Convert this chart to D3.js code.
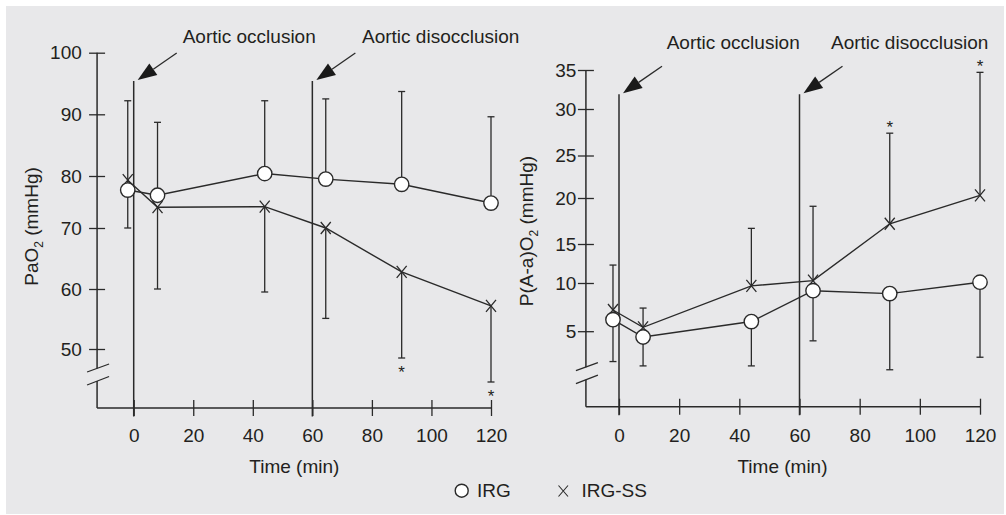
<!DOCTYPE html>
<html>
<head>
<meta charset="utf-8">
<script src="https://cdn.jsdelivr.net/npm/d3@7"></script>
<style>
  html, body { margin: 0; padding: 0; background: #ffffff; }
  svg { display: block; }
  text { font-family: "Liberation Sans", Arial, Helvetica, sans-serif; fill: #231f20; }
</style>
</head>
<body>
<svg id="chart" width="1006" height="515"></svg>
<script>
// ---------------- data ----------------
const times = [-2, 8, 44, 64.5, 90, 120];
const xTickValues = [0, 20, 40, 60, 80, 100, 120];

// Left panel: PaO2 (mmHg)
const paoTicks = [50, 60, 70, 80, 90, 100];
const paoIRG      = [77.3, 76.3, 80.4, 79.4, 78.4, 74.8];
const paoIRGUpper = [92.2, 88.7, 92.2, 92.5, 93.7, 89.6];
const paoSS       = [79.2, 74.0, 74.1, 70.0, 62.8, 57.2];
const paoSSLower  = [70.0, 60.0, 59.5, 55.1, 48.5, 44.5];
const paoSignif   = [false, false, false, false, true, true];

// Right panel: P(A-a)O2 (mmHg)
const aaTicks = [5, 10, 15, 20, 25, 30, 35];
const aaIRG      = [6.2, 4.4, 6.0, 9.2, 8.9, 10.1];
const aaIRGLower = [1.85, 1.4, 1.4, 4.0, 1.0, 2.3];
const aaSS       = [7.2, 5.4, 9.7, 10.3, 17.2, 20.3];
const aaSSUpper  = [12.3, 7.4, 16.7, 19.1, 27.4, 34.7];
const aaSignif   = [false, false, false, false, true, true];

const events = [{t: 0, label: "Aortic occlusion"}, {t: 60, label: "Aortic disocclusion"}];
const legendItems = ["IRG", "IRG-SS"];

// ---------------- drawing ----------------
const INK = "#2a2a2a";
const svg = d3.select("#chart");
svg.append("rect").attr("x", 6).attr("y", 6).attr("width", 998).attr("height", 508).attr("fill", "#e8e8ea");

function crossShape(g, cx, cy) {
  g.append("path")
    .attr("d", `M${cx-5},${cy-6}L${cx+5},${cy+6}M${cx+5},${cy-6}L${cx-5},${cy+6}`)
    .attr("stroke", INK).attr("stroke-width", 1.3).attr("fill", "none");
}

function panel(cfg) {
  const g = svg.append("g");
  const x = d3.scaleLinear().domain([0, 120]).range(cfg.xRange);
  const y = d3.scaleLinear().domain(cfg.yDomain).range(cfg.yRange);
  const x0 = x(cfg.xStart), x1 = x(120);
  const yTop = y(cfg.yDomain[cfg.yDomain.length - 1]);
  const base = cfg.baseline;

  // axis lines with break
  g.append("line").attr("x1", x0).attr("x2", x0).attr("y1", yTop).attr("y2", base - 39.5)
    .attr("stroke", INK).attr("stroke-width", 1.5);
  g.append("line").attr("x1", x0).attr("x2", x0).attr("y1", base - 27).attr("y2", base)
    .attr("stroke", INK).attr("stroke-width", 1.5);
  [[-36, -44], [-23, -31.5]].forEach(([a, b]) => {
    g.append("line").attr("x1", x0 - 10).attr("y1", base + a).attr("x2", x0 + 12).attr("y2", base + b)
      .attr("stroke", INK).attr("stroke-width", 1.3);
  });
  g.append("line").attr("x1", x0).attr("x2", x1).attr("y1", base).attr("y2", base)
    .attr("stroke", INK).attr("stroke-width", 1.5);

  // y axis
  const ya = g.append("g").attr("transform", `translate(${x0},0)`)
    .call(d3.axisLeft(y).tickValues(cfg.yTicks).tickSize(8).tickPadding(cfg.yPad).tickFormat(d3.format("d")));
  ya.select(".domain").remove();
  ya.selectAll(".tick line").attr("x1", 8).attr("stroke", INK).attr("stroke-width", 1.3);
  ya.selectAll(".tick text").attr("font-size", 19).attr("font-family", null).attr("fill", "#231f20");

  // x axis
  const xa = g.append("g").attr("transform", `translate(0,${base})`)
    .call(d3.axisBottom(x).tickValues(xTickValues).tickSize(8).tickPadding(cfg.xPad));
  xa.select(".domain").remove();
  xa.selectAll(".tick line").attr("y1", -8).attr("stroke", INK).attr("stroke-width", 1.3);
  xa.selectAll(".tick text").attr("font-size", 19).attr("font-family", null).attr("fill", "#231f20");

  // axis titles
  g.append("text").attr("x", (x(0) + x(120)) / 2 + cfg.titleDx).attr("y", 472.5)
    .attr("text-anchor", "middle").attr("font-size", 19).text("Time (min)");
  const yt = g.append("text")
    .attr("transform", `translate(${cfg.yTitleX},${cfg.yTitleY}) rotate(-90)`)
    .attr("text-anchor", "middle").attr("font-size", 19);
  yt.append("tspan").text(cfg.yTitle[0]);
  yt.append("tspan").attr("font-size", 12).attr("dy", 5).text("2");
  yt.append("tspan").attr("dy", -5).text(cfg.yTitle[1]);

  // event lines + arrows + labels
  events.forEach((ev, i) => {
    const ex = x(ev.t);
    g.append("line").attr("x1", ex).attr("x2", ex).attr("y1", y(cfg.eventTop)).attr("y2", base + 8.5)
      .attr("stroke", INK).attr("stroke-width", 1.5);
    const tipX = ex + 4, tipY = y(cfg.eventTop) - 1;
    const sx = tipX + 39, sy = tipY - 27;
    const ang = Math.atan2(tipY - sy, tipX - sx);
    const L = 19, W = 7;
    const bx = tipX - L * Math.cos(ang), by = tipY - L * Math.sin(ang);
    g.append("line").attr("x1", sx).attr("y1", sy).attr("x2", bx).attr("y2", by)
      .attr("stroke", INK).attr("stroke-width", 1.3);
    g.append("path")
      .attr("d", `M${tipX},${tipY}L${bx + W * Math.sin(ang)},${by - W * Math.cos(ang)}L${bx - W * Math.sin(ang)},${by + W * Math.cos(ang)}Z`)
      .attr("fill", "#1a1a1a");
    g.append("text").attr("x", cfg.labelX[i]).attr("y", cfg.labelY).attr("font-size", 19).text(ev.label);
  });

  // error bars
  function bars(vals, ends, cls) {
    const eg = g.append("g").attr("class", cls);
    times.forEach((t, i) => {
      eg.append("line").attr("x1", x(t)).attr("x2", x(t)).attr("y1", y(vals[i])).attr("y2", y(ends[i]))
        .attr("stroke", INK).attr("stroke-width", 1.3);
      eg.append("line").attr("x1", x(t) - 3.5).attr("x2", x(t) + 3.5).attr("y1", y(ends[i])).attr("y2", y(ends[i]))
        .attr("stroke", INK).attr("stroke-width", 1.3);
    });
  }
  bars(cfg.ss, cfg.ssErr, "ss-err");
  bars(cfg.irg, cfg.irgErr, "irg-err");

  // asterisks
  times.forEach((t, i) => {
    if (!cfg.signif[i]) return;
    const yy = y(cfg.starAt[i]) + cfg.starDy;
    g.append("text").attr("x", x(t)).attr("y", yy).attr("text-anchor", "middle")
      .attr("font-size", 17).text("*");
  });

  // lines
  const line = d3.line().x((d, i) => x(times[i])).y(d => y(d));
  g.append("path").datum(cfg.ss).attr("d", line).attr("fill", "none").attr("stroke", INK).attr("stroke-width", 1.4);
  g.append("path").datum(cfg.irg).attr("d", line).attr("fill", "none").attr("stroke", INK).attr("stroke-width", 1.4);

  // markers
  cfg.ss.forEach((v, i) => crossShape(g, x(times[i]), y(v)));
  g.selectAll("circle.irg").data(cfg.irg).enter().append("circle").attr("class", "irg")
    .attr("cx", (d, i) => x(times[i])).attr("cy", d => y(d)).attr("r", 7.2)
    .attr("fill", "#ffffff").attr("stroke", INK).attr("stroke-width", 1.4);
}

panel({
  xRange: [133.7, 491], xStart: -12.3,
  yDomain: paoTicks, yRange: [349, 289, 228, 176, 114.3, 52.7], yTicks: paoTicks,
  baseline: 408, yPad: 7.3, xPad: 12.2, titleDx: -18,
  yTitle: ["PaO", " (mmHg)"], yTitleX: 38, yTitleY: 226.5,
  eventTop: 95.4, labelX: [182.7, 362], labelY: 43.3,
  irg: paoIRG, irgErr: paoIRGUpper, ss: paoSS, ssErr: paoSSLower,
  signif: paoSignif, starAt: paoSSLower, starDy: 20
});

panel({
  xRange: [619, 980], xStart: -11,
  yDomain: aaTicks, yRange: [331.2, 283, 244, 198, 155.5, 109, 70], yTicks: aaTicks,
  baseline: 406.7, yPad: 1.5, xPad: 13.5, titleDx: -17,
  yTitle: ["P(A-a)O", " (mmHg)"], yTitleX: 533, yTitleY: 231,
  eventTop: 31.9, labelX: [666.7, 831], labelY: 49.3,
  irg: aaIRG, irgErr: aaIRGLower, ss: aaSS, ssErr: aaSSUpper,
  signif: aaSignif, starAt: aaSSUpper, starDy: 0
});

// legend
const lg = svg.append("g");
lg.append("circle").attr("cx", 461.7).attr("cy", 490.7).attr("r", 6.5)
  .attr("fill", "#ffffff").attr("stroke", INK).attr("stroke-width", 1.4);
lg.append("text").attr("x", 477).attr("y", 497).attr("font-size", 19).text(legendItems[0]);
lg.append("path").attr("d", "M558.5,485.5L568,496.5M568,485.5L558.5,496.5")
  .attr("stroke", INK).attr("stroke-width", 1.1).attr("fill", "none");
lg.append("text").attr("x", 581.5).attr("y", 497).attr("font-size", 19).text(legendItems[1]);
</script>
</body>
</html>
